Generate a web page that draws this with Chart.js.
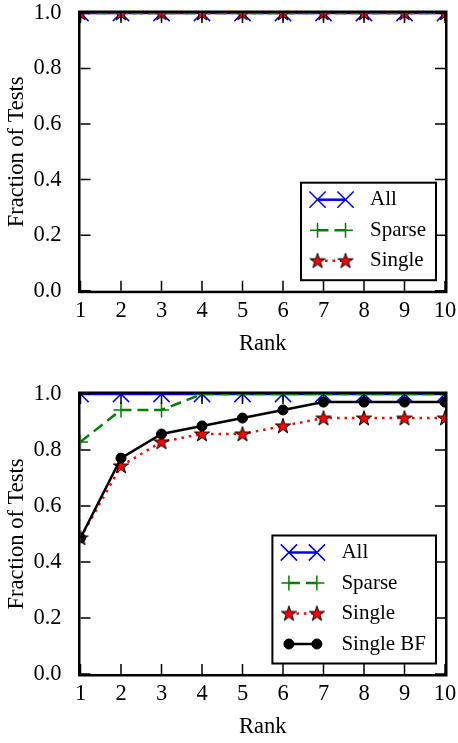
<!DOCTYPE html>
<html>
<head>
<meta charset="utf-8">
<script src="https://cdn.jsdelivr.net/npm/chart.js@4.4.0/dist/chart.umd.min.js"></script>
<style>
    html, body { margin: 0; padding: 0; background: #fff; }
    canvas { display: block; position: absolute; left: 0; }
    #top { top: 0; }
    #bottom { top: 372px; }
</style>
</head>
<body>
<canvas id="top" width="458" height="372"></canvas>
<canvas id="bottom" width="458" height="371"></canvas>
<script>
var ranks = [1, 2, 3, 4, 5, 6, 7, 8, 9, 10],
    yTicks = [0.0, 0.2, 0.4, 0.6, 0.8, 1.0];

// upper panel
var topAll    = [1, 1, 1, 1, 1, 1, 1, 1, 1, 1],
    topSparse = [1, 1, 1, 1, 1, 1, 1, 1, 1, 1],
    topSingle = [1, 1, 1, 1, 1, 1, 1, 1, 1, 1];

// lower panel
var botAll      = [1, 1, 1, 1, 1, 1, 1, 1, 1, 1],
    botSparse   = [0.829, 0.943, 0.943, 1, 1, 1, 1, 1, 1, 1],
    botSingle   = [0.486, 0.743, 0.829, 0.857, 0.857, 0.886, 0.914, 0.914, 0.914, 0.914],
    botSingleBF = [0.486, 0.771, 0.857, 0.886, 0.914, 0.943, 0.971, 0.971, 0.971, 0.971];

var FONT = 'Liberation Serif',
    FS = 22.5;
Chart.defaults.font.family = FONT;
Chart.defaults.color = '#000';

function makeStar() {
    var c = document.createElement('canvas'), g, i, a, rr, R = 8, r = 8 * 0.382;
    c.width = 20;
    c.height = 20;
    g = c.getContext('2d');
    g.beginPath();
    for (i = 0; i < 10; i += 1) {
        a = -Math.PI / 2 + i * Math.PI / 5;
        rr = i % 2 ? r : R;
        g.lineTo(10 + rr * Math.cos(a), 10.5 + rr * Math.sin(a));
    }
    g.closePath();
    g.fillStyle = '#ff0000';
    g.fill();
    g.lineWidth = 1;
    g.strokeStyle = '#000';
    g.stroke();
    return c;
}
var starImg = makeStar();

var styles = {
    all: {borderColor: '#0000ff', borderWidth: 2.5, pointStyle: 'crossRot', pointRadius: 11.5,
        pointBorderColor: '#0000ff', pointBackgroundColor: '#0000ff', pointBorderWidth: 1.5, order: 4},
    sparse: {borderColor: '#008000', borderWidth: 2.5, borderDash: [11, 6], pointStyle: 'cross', pointRadius: 7.5,
        pointBorderColor: '#008000', pointBackgroundColor: '#008000', pointBorderWidth: 1.5, order: 3},
    single: {borderColor: '#ff0000', borderWidth: 2.5, borderDash: [2.5, 5], pointStyle: starImg, pointRadius: 8,
        pointBorderColor: '#000', pointBackgroundColor: '#ff0000', pointBorderWidth: 1, order: 2},
    bf: {borderColor: '#000', borderWidth: 2.5, pointStyle: 'circle', pointRadius: 5,
        pointBorderColor: '#000', pointBackgroundColor: '#000', pointBorderWidth: 1, order: 1}
};

function series(label, values, style) {
    var ds = {
        label: label,
        data: values.map(function (v, i) { return {x: ranks[i], y: v}; }),
        fill: false,
        tension: 0,
        clip: 0
    };
    return Object.assign(ds, style);
}

// inward ticks on all four sides + box
var frame = {
    id: 'frame',
    afterDatasetsDraw: function (chart) {
        var ctx = chart.ctx, a = chart.chartArea, xs = chart.scales.x, ys = chart.scales.y, L = 10;
        ctx.save();
        ctx.strokeStyle = '#000';
        ctx.lineWidth = 1.5;
        ctx.beginPath();
        xs.ticks.forEach(function (t) {
            var p = xs.getPixelForValue(t.value);
            ctx.moveTo(p, a.bottom); ctx.lineTo(p, a.bottom - L);
            ctx.moveTo(p, a.top); ctx.lineTo(p, a.top + L);
        });
        ys.ticks.forEach(function (t) {
            var p = ys.getPixelForValue(t.value);
            ctx.moveTo(a.left, p); ctx.lineTo(a.left + L, p);
            ctx.moveTo(a.right, p); ctx.lineTo(a.right - L, p);
        });
        ctx.stroke();
        ctx.lineWidth = 2.5;
        ctx.strokeRect(a.left - 1.25, a.top - 1.25, a.right - a.left + 2.5, a.bottom - a.top + 2.5);
        ctx.restore();
    }
};

var legendBox = {
    id: 'legendBox',
    afterDraw: function (chart) {
        var ctx = chart.ctx, a = chart.chartArea, sets = chart.data.datasets,
            textW, w, h, x0, y0;
        ctx.save();
        ctx.font = '21px "' + FONT + '"';
        textW = Math.max.apply(null, sets.map(function (d) { return ctx.measureText(d.label).width; }));
        w = 69 + textW + 10;
        h = 17 + (sets.length - 1) * 30.5 + 19.5;
        x0 = a.right - 9 - w;
        y0 = a.bottom - 10.5 - h;
        ctx.fillStyle = '#fff';
        ctx.fillRect(x0, y0, w, h);
        ctx.lineWidth = 2;
        ctx.strokeStyle = '#000';
        ctx.strokeRect(x0, y0, w, h);
        sets.forEach(function (d, i) {
            var y = y0 + 17 + i * 30.5, x1 = x0 + 16.5, x2 = x1 + 28;
            ctx.save();
            ctx.strokeStyle = d.borderColor;
            ctx.lineWidth = d.borderWidth;
            ctx.setLineDash(d.borderDash || []);
            ctx.beginPath();
            ctx.moveTo(x1, y);
            ctx.lineTo(x2, y);
            ctx.stroke();
            ctx.restore();
            ctx.strokeStyle = d.pointBorderColor;
            ctx.fillStyle = d.pointBackgroundColor;
            ctx.lineWidth = d.pointBorderWidth;
            [x1, x2].forEach(function (x) {
                Chart.helpers.drawPoint(ctx, {pointStyle: d.pointStyle, radius: d.pointRadius,
                    borderWidth: d.pointBorderWidth, rotation: 0}, x, y);
            });
            ctx.fillStyle = '#000';
            ctx.textBaseline = 'middle';
            ctx.textAlign = 'left';
            ctx.fillText(d.label, x0 + 69, y);
        });
        ctx.restore();
    }
};

function makeChart(id, sets, plotTop, plotBottom, titlePad) {
    var canvas = document.getElementById(id);
    return new Chart(canvas, {
        type: 'line',
        data: {datasets: sets},
        options: {
            responsive: false,
            animation: false,
            devicePixelRatio: 1,
            layout: {padding: {top: plotTop, right: 13, left: 0, bottom: 0}},
            plugins: {legend: {display: false}, tooltip: {enabled: false}},
            scales: {
                x: {
                    type: 'linear', min: 1, max: 10,
                    grid: {display: false}, border: {display: false},
                    afterBuildTicks: function (s) { s.ticks = ranks.map(function (v) { return {value: v}; }); },
                    ticks: {font: {size: FS}, color: '#000', padding: -1, maxRotation: 0, autoSkip: false,
                        callback: function (v) { return String(v); }},
                    title: {display: true, text: 'Rank', font: {size: FS}, color: '#000',
                        padding: {top: 0, bottom: titlePad}},
                    afterFit: function (s) {
                        s.height = canvas.height - plotBottom;
                        s.paddingLeft = 0;
                        s.paddingRight = 0;
                    }
                },
                y: {
                    type: 'linear', min: 0, max: 1,
                    grid: {display: false}, border: {display: false},
                    afterBuildTicks: function (s) { s.ticks = yTicks.map(function (v) { return {value: v}; }); },
                    ticks: {font: {size: FS}, color: '#000', padding: 11,
                        callback: function (v) { return Number(v).toFixed(1); }},
                    title: {display: true, text: 'Fraction of Tests', font: {size: FS}, color: '#000',
                        padding: {top: 4, bottom: 0}},
                    afterFit: function (s) {
                        s.width = 80.5;
                        s.paddingTop = 0;
                        s.paddingBottom = 0;
                    }
                }
            }
        },
        plugins: [frame, legendBox]
    });
}

makeChart('top', [
    series('All', topAll, styles.all),
    series('Sparse', topSparse, styles.sparse),
    series('Single', topSingle, styles.single)
], 10.5, 290.7, 14.5);

makeChart('bottom', [
    series('All', botAll, styles.all),
    series('Sparse', botSparse, styles.sparse),
    series('Single', botSingle, styles.single),
    series('Single BF', botSingleBF, styles.bf)
], 22, 302, 2);
</script>
</body>
</html>
